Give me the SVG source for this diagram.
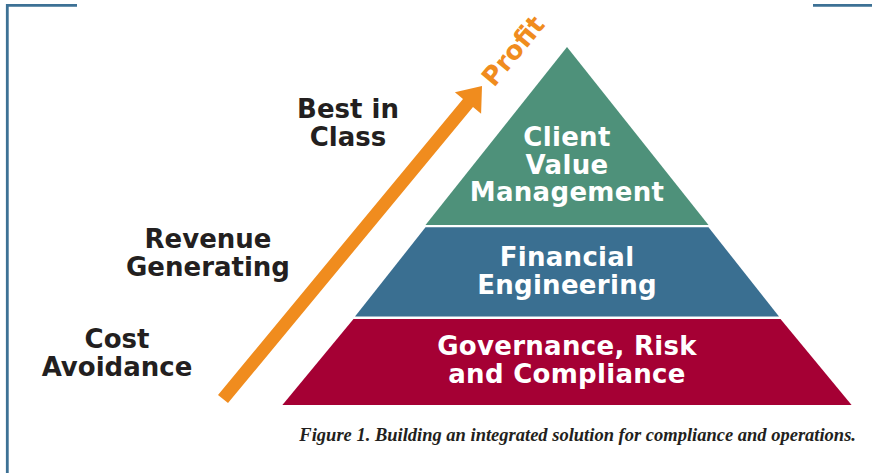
<svg xmlns="http://www.w3.org/2000/svg" width="872" height="473" viewBox="0 0 872 473">
<style>
.lbl{font-family:"DejaVu Sans",Verdana,sans-serif;font-weight:bold;font-size:26px;fill:#231f20;text-anchor:middle}
.pt{font-family:"DejaVu Sans",Verdana,sans-serif;font-weight:bold;font-size:26px;fill:#ffffff;text-anchor:middle;letter-spacing:0.3px}
.frame{stroke:#3d7195;stroke-width:2.8;fill:none}
.cap{font-family:"Liberation Serif","Times New Roman",serif;font-weight:bold;font-style:italic;font-size:18.5px;fill:#231f20}
</style>
<rect width="872" height="473" fill="#ffffff"/>
<g id="frame">
<polyline class="frame" points="77,5.3 7.3,5.3 7.3,473"/>
<line class="frame" x1="813" y1="5.3" x2="872" y2="5.3"/>
</g>
<g id="connectors">
<polygon id="arrow" fill="#f08c1e" points="218,394.9 463,98.9 454.9,92.2 482,86 481.1,113.8 473,107.1 228,403.1"/>
</g>
<g id="profit">
<text x="0" y="0" transform="translate(494,88) rotate(-50.4)" style="font-family:'DejaVu Sans',Verdana,sans-serif;font-weight:bold;font-size:26px;fill:#f08c1e">Profit</text>
</g>
<g id="node-client">
<polygon fill="#4e917a" points="567,47 708.5,225 425.5,225"/>
<text class="pt" x="567" y="146">Client</text>
<text class="pt" x="567" y="173.5">Value</text>
<text class="pt" x="567" y="201">Management</text>
</g>
<g id="node-financial">
<polygon fill="#3a6f91" points="425.5,227.3 708.5,227.3 779,316.5 355,316.5"/>
<text class="pt" x="567" y="266">Financial</text>
<text class="pt" x="567" y="293.5">Engineering</text>
</g>
<g id="node-governance">
<polygon fill="#a50034" points="353.5,319 780.5,319 851.6,405 282.4,405"/>
<text class="pt" x="567" y="355">Governance, Risk</text>
<text class="pt" x="567" y="382.5">and Compliance</text>
</g>
<g id="label-best">
<text class="lbl" x="348" y="118">Best in</text>
<text class="lbl" x="348" y="146">Class</text>
</g>
<g id="label-revenue">
<text class="lbl" x="208" y="248">Revenue</text>
<text class="lbl" x="208" y="276">Generating</text>
</g>
<g id="label-cost">
<text class="lbl" x="117" y="348">Cost</text>
<text class="lbl" x="117" y="376">Avoidance</text>
</g>
<text class="cap" x="856" y="441" text-anchor="end">Figure 1. Building an integrated solution for compliance and operations.</text>
</svg>
